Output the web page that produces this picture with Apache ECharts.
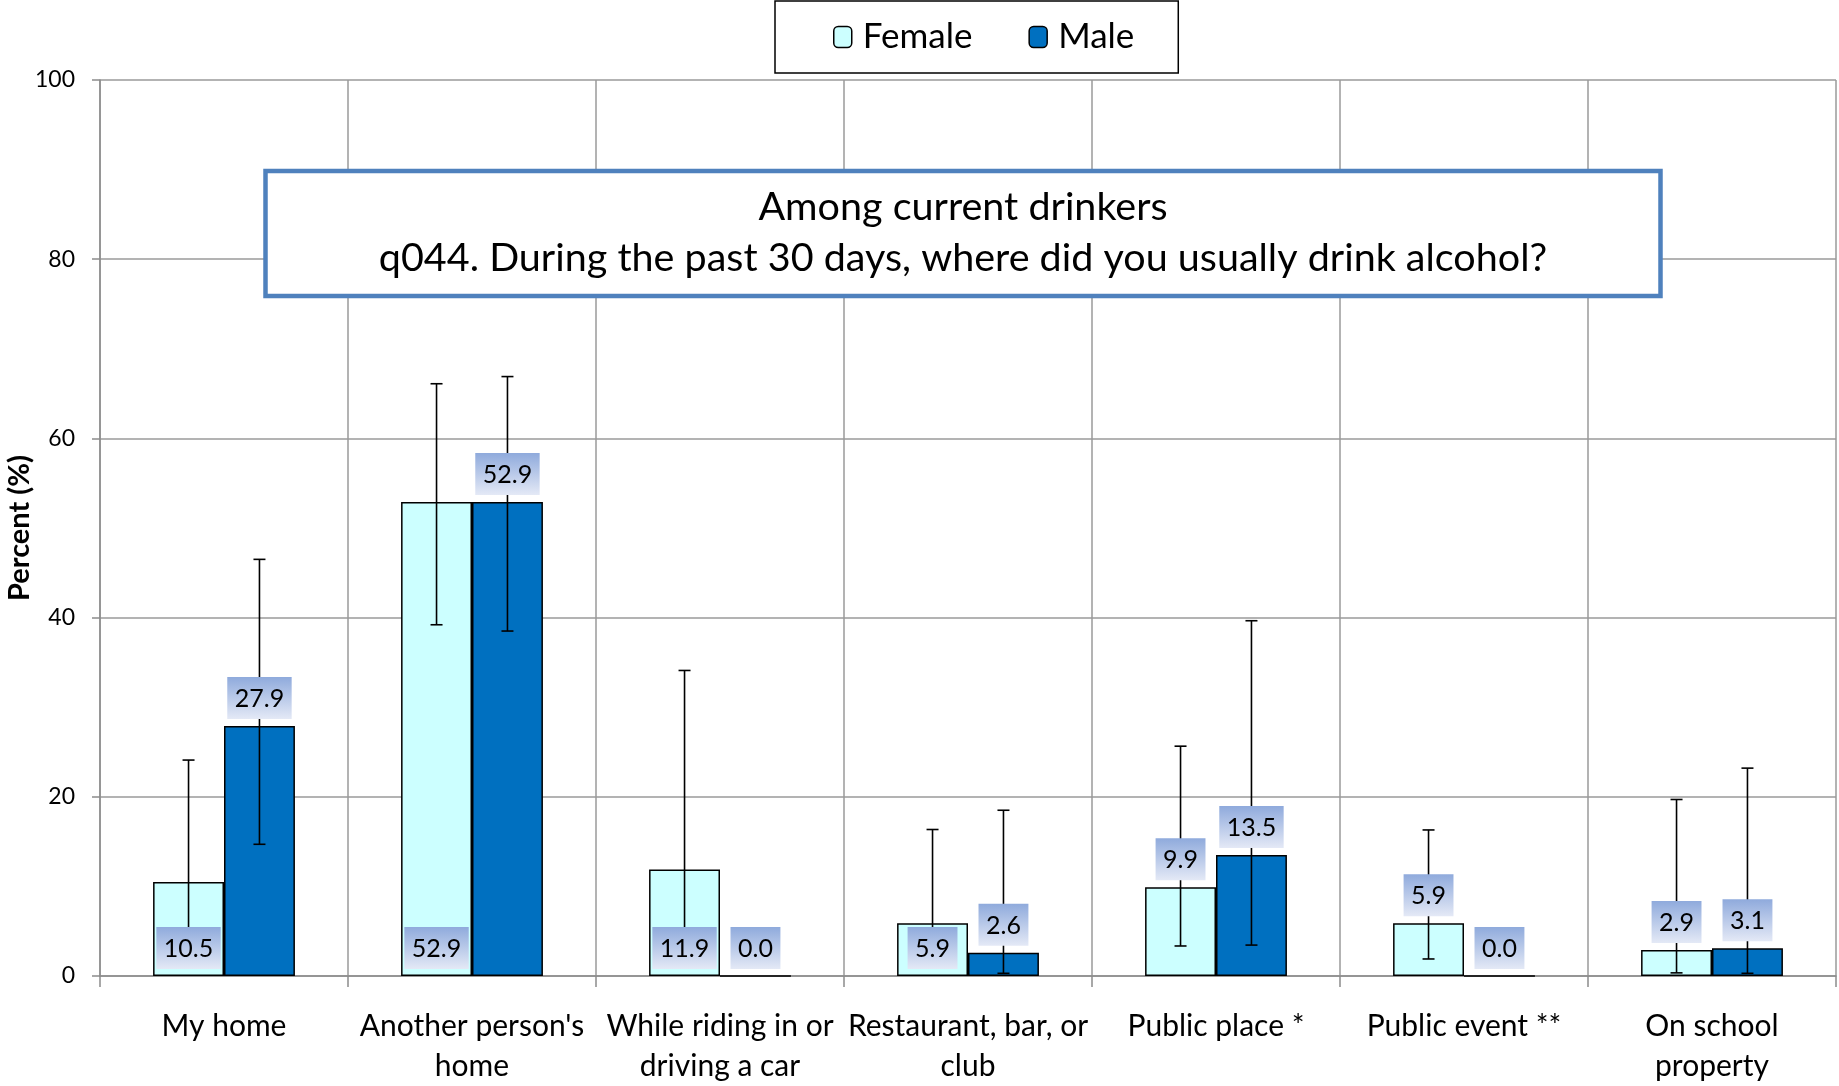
<!DOCTYPE html>
<html>
<head>
<meta charset="utf-8">
<script src="https://cdn.jsdelivr.net/npm/echarts@6/dist/echarts.min.js"></script>
<style>
  html, body { margin: 0; padding: 0; background: #fff; }
  #chart { width: 1839px; height: 1086px; }
</style>
</head>
<body>
<div id="chart"></div>
<script>
// ---------------- data ----------------
const categories = [
  'My home',
  "Another person's\nhome",
  'While riding in or\ndriving a car',
  'Restaurant, bar, or\nclub',
  'Public place *',
  'Public event **',
  'On school\nproperty'
];
const seriesNames = ['Female', 'Male'];
const femaleValues = [10.5, 52.9, 11.9, 5.9, 9.9, 5.9, 2.9];
const maleValues   = [27.9, 52.9, 0.0, 2.6, 13.5, 0.0, 3.1];
const femaleLower  = [3.5, 39.2, 3.6, 1.6, 3.35, 1.9, 0.35];
const femaleUpper  = [24.1, 66.1, 34.1, 16.35, 25.65, 16.3, 19.7];
const maleLower    = [14.7, 38.5, null, 0.3, 3.45, null, 0.3];
const maleUpper    = [46.5, 66.9, null, 18.5, 39.65, null, 23.2];
const yMin = 0, yMax = 100, yStep = 20;
const titleLines = ['Among current drinkers', 'q044. During the past 30 days, where did you usually drink alcohol?'];
const yAxisTitle = 'Percent (%)';

// ---------------- styling ----------------
const FONT = 'Lato';
const BAR_FRAC = 0.286;
const femaleLabelAtBase = [true, true, true, true, false, false, false];
const maleLabelAtBase   = [false, false, false, false, false, false, false];
const LABEL_FONT = '25px ' + FONT;

const measureCtx = document.createElement('canvas').getContext('2d');
function textWidth(t) { measureCtx.font = LABEL_FONT; return measureCtx.measureText(t).width; }

function errorRenderer(side) {
  return function (params, api) {
    const lo = api.value(1), hi = api.value(2);
    if (lo == null || hi == null || isNaN(lo) || isNaN(hi)) return null;
    const i = api.value(0);
    const catW = api.size([1, 0])[0];
    const bw = catW * BAR_FRAC;
    const pHi = api.coord([i, hi]);
    const pLo = api.coord([i, lo]);
    const x = pHi[0] + side * bw / 2;
    const cap = 6;
    const st = { stroke: '#000', lineWidth: 1.6 };
    return {
      type: 'group',
      children: [
        { type: 'line', shape: { x1: x, y1: pHi[1], x2: x, y2: pLo[1] }, style: st },
        { type: 'line', shape: { x1: x - cap, y1: pHi[1], x2: x + cap, y2: pHi[1] }, style: st },
        { type: 'line', shape: { x1: x - cap, y1: pLo[1], x2: x + cap, y2: pLo[1] }, style: st }
      ]
    };
  };
}

function labelRenderer(side, atBase) {
  return function (params, api) {
    const i = api.value(0);
    const v = api.value(1);
    const catW = api.size([1, 0])[0];
    const bw = catW * BAR_FRAC;
    const p = api.coord([i, atBase[params.dataIndex] ? 0 : v]);
    const x = p[0] + side * bw / 2;
    const txt = v.toFixed(1);
    const w = textWidth(txt) + 15;
    const h = 42;
    const bottom = p[1] - 7;
    return {
      type: 'group',
      children: [
        {
          type: 'rect',
          shape: { x: x - w / 2, y: bottom - h, width: w, height: h },
          style: {
            fill: new echarts.graphic.LinearGradient(0, 0, 0, 1, [
              { offset: 0, color: '#8FAADC' },
              { offset: 1, color: '#E4E9F6' }
            ])
          }
        },
        {
          type: 'text',
          style: {
            text: txt, x: x, y: bottom - h / 2 + 1,
            align: 'center', verticalAlign: 'middle',
            font: LABEL_FONT, fill: '#000'
          }
        }
      ]
    };
  };
}

const chart = echarts.init(document.getElementById('chart'), null, { renderer: 'canvas' });

const option = {
  animation: false,
  backgroundColor: '#fff',
  textStyle: { fontFamily: FONT },
  grid: { left: 100, right: 3, top: 80, bottom: 110, containLabel: false, outerBoundsMode: 'none' },
  legend: {
    data: seriesNames,
    left: 775, top: 1,
    padding: [17, 44, 17, 58],
    itemGap: 56,
    itemWidth: 18, itemHeight: 21,
    borderColor: '#000', borderWidth: 1.5,
    backgroundColor: '#fff',
    textStyle: { fontSize: 35, color: '#000', fontFamily: FONT, padding: [0, 0, 0, 6], lineHeight: 38 },
    itemStyle: { borderColor: '#000', borderWidth: 1.5 }
  },
  xAxis: {
    type: 'category',
    data: categories,
    boundaryGap: true,
    axisLine: { lineStyle: { color: '#8C8C8C', width: 1.5 } },
    axisTick: { show: true, length: 11, lineStyle: { color: '#8C8C8C', width: 1.5 } },
    splitLine: { show: true, lineStyle: { color: '#9A9A9A', width: 1.5 } },
    axisLabel: { fontSize: 30, color: '#000', fontFamily: FONT, lineHeight: 40, margin: 30, interval: 0 }
  },
  yAxis: {
    type: 'value',
    min: yMin, max: yMax, interval: yStep,
    name: yAxisTitle,
    nameLocation: 'middle',
    nameGap: 66,
    nameMoveOverlap: false,
    nameTextStyle: { fontSize: 29, fontWeight: 'bold', color: '#000', fontFamily: FONT },
    axisLine: { show: true, lineStyle: { color: '#8C8C8C', width: 1.5 } },
    axisTick: { show: true, length: 8, lineStyle: { color: '#8C8C8C', width: 1.5 } },
    splitLine: { show: true, lineStyle: { color: '#9A9A9A', width: 1.5 } },
    axisLabel: { fontSize: 23, color: '#000', fontFamily: FONT, margin: 25 }
  },
  series: [
    {
      name: seriesNames[0], type: 'bar', data: femaleValues,
      barWidth: (BAR_FRAC * 100) + '%', barGap: '0%', z: 2, silent: true,
      itemStyle: { color: '#CCFFFF', borderColor: '#000', borderWidth: 1.5 }
    },
    {
      name: seriesNames[1], type: 'bar', data: maleValues,
      barWidth: (BAR_FRAC * 100) + '%', barGap: '0%', z: 2, silent: true,
      itemStyle: { color: '#0070C0', borderColor: '#000', borderWidth: 1.5 }
    },
    {
      type: 'custom', name: 'femaleErr', z: 3, silent: true,
      renderItem: errorRenderer(-1),
      encode: { x: 0, y: [1, 2] },
      data: categories.map((c, i) => [i, femaleLower[i], femaleUpper[i]])
    },
    {
      type: 'custom', name: 'maleErr', z: 3, silent: true,
      renderItem: errorRenderer(1),
      encode: { x: 0, y: [1, 2] },
      data: categories.map((c, i) => [i, maleLower[i] == null ? '-' : maleLower[i], maleUpper[i] == null ? '-' : maleUpper[i]])
    },
    {
      type: 'custom', name: 'femaleLbl', z: 4, silent: true,
      renderItem: labelRenderer(-1, femaleLabelAtBase),
      encode: { x: 0, y: 1 },
      data: categories.map((c, i) => [i, femaleValues[i]])
    },
    {
      type: 'custom', name: 'maleLbl', z: 4, silent: true,
      renderItem: labelRenderer(1, maleLabelAtBase),
      encode: { x: 0, y: 1 },
      data: categories.map((c, i) => [i, maleValues[i]])
    }
  ],
  graphic: [
    {
      type: 'rect', z: 100,
      shape: { x: 265.5, y: 171, width: 1395, height: 125 },
      style: { fill: '#fff', stroke: '#4F81BD', lineWidth: 4.5 }
    },
    {
      type: 'text', z: 101,
      style: { text: titleLines[0], x: 963, y: 207, align: 'center', verticalAlign: 'middle', font: '39.5px ' + FONT, fill: '#000' }
    },
    {
      type: 'text', z: 101,
      style: { text: titleLines[1], x: 963, y: 258, align: 'center', verticalAlign: 'middle', font: '39.5px ' + FONT, fill: '#000' }
    }
  ]
};
chart.setOption(option);
</script>
</body>
</html>
